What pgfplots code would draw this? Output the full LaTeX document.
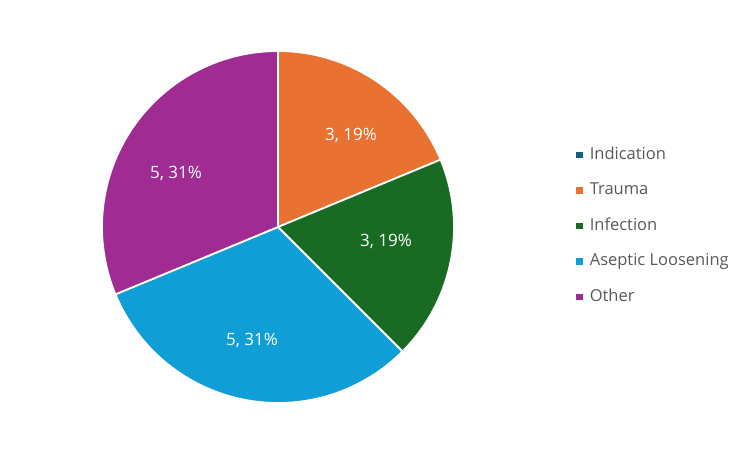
\documentclass[border=0pt]{standalone}
\usepackage{pgfplots}
\pgfplotsset{compat=1.18}
\usepackage{fontspec}
\setmainfont{Open Sans}
\definecolor{cInd}{HTML}{156082}
\definecolor{cTra}{HTML}{E97132}
\definecolor{cInf}{HTML}{196B24}
\definecolor{cAse}{HTML}{0F9ED5}
\definecolor{cOth}{HTML}{A02B93}
\definecolor{txtgray}{HTML}{595959}
% data: counts per category
\def\vA{0}\def\vB{3}\def\vC{3}\def\vD{5}\def\vE{5}
\pgfmathsetmacro\tot{\vA+\vB+\vC+\vD+\vE}
\pgfmathsetmacro\sA{0}
\pgfmathsetmacro\sB{\sA+360*\vA/\tot}
\pgfmathsetmacro\sC{\sB+360*\vB/\tot}
\pgfmathsetmacro\sD{\sC+360*\vC/\tot}
\pgfmathsetmacro\sE{\sD+360*\vD/\tot}
\pgfmathsetmacro\sF{\sE+360*\vE/\tot}
\def\cx{278}\def\cy{221}\def\R{176}
\newcommand\slice[3]{%
  \addplot[fill=#3, draw=white, line width=1.8pt, line join=round, domain=#1:#2, samples=90, variable=\t, forget plot]
    ({\cx+\R*sin(\t)},{\cy+\R*cos(\t)}) -- (axis cs:\cx,\cy) -- cycle;}
\begin{document}
\begin{tikzpicture}
\begin{axis}[
  scale only axis, width=750pt, height=448pt,
  xmin=0, xmax=750, ymin=0, ymax=448,
  hide axis, clip=false,
  legend image code/.code={\fill[#1] (0pt,-3.3pt) rectangle (6.6pt,3.3pt);},
  legend cell align=left,
  legend style={at={(axis cs:573,305)}, anchor=north west, draw=none, fill=none,
    font=\fontsize{16.5}{19}\selectfont, text=txtgray, row sep=16pt,
    nodes={inner sep=2pt, text height=12pt, text depth=3.5pt},
    /tikz/every odd column/.append style={column sep=5pt}},
]
\path (rel axis cs:0,0) rectangle (rel axis cs:1,1);
\slice{\sB}{\sC}{cTra}
\slice{\sC}{\sD}{cInf}
\slice{\sD}{\sE}{cAse}
\slice{\sE}{\sF}{cOth}
\addlegendimage{fill=cInd, draw=none}\addlegendentry{Indication}
\addlegendimage{fill=cTra, draw=none}\addlegendentry{Trauma}
\addlegendimage{fill=cInf, draw=none}\addlegendentry{Infection}
\addlegendimage{fill=cAse, draw=none}\addlegendentry{Aseptic Loosening}
\addlegendimage{fill=cOth, draw=none}\addlegendentry{Other}
\begin{scope}[every node/.style={text=white, font=\fontsize{17}{20}\selectfont}]
\node at (axis cs:351,313) {3, 19\%};
\node at (axis cs:386,207) {3, 19\%};
\node at (axis cs:252,108) {5, 31\%};
\node at (axis cs:176,275) {5, 31\%};
\end{scope}
\end{axis}
\end{tikzpicture}
\end{document}
